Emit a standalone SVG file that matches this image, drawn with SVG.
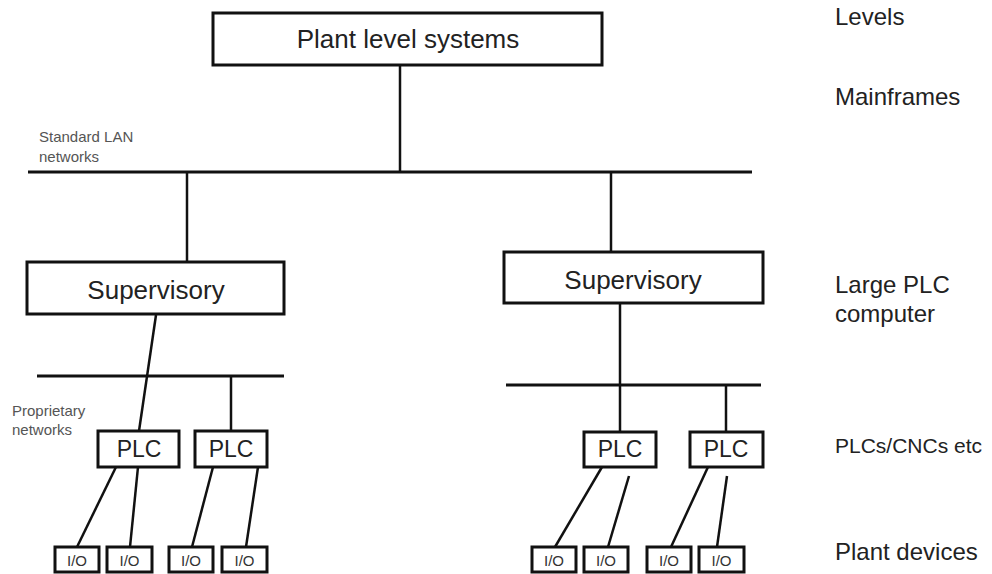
<svg xmlns="http://www.w3.org/2000/svg" width="992" height="574" viewBox="0 0 992 574">
<style>
.box{fill:#fff;stroke:#111;stroke-width:3}
.ln{stroke:#111;stroke-width:2.5;fill:none;stroke-linecap:butt}
.bus{stroke:#111;stroke-width:3;fill:none}
text{font-family:"Liberation Sans",Arial,sans-serif;fill:#222}
.big{font-size:26px;text-anchor:middle}
.plc{font-size:23px;text-anchor:middle}
.io{font-size:15px;text-anchor:middle;fill:#333}
.lvl{font-size:24px}
.small{font-size:15px;fill:#555}
</style>
<rect width="992" height="574" fill="#fff"/>
<g id="connectors">
<line class="ln" x1="400" y1="65" x2="400" y2="172"/>
<line class="bus" x1="28" y1="172" x2="752" y2="172"/>
<line class="ln" x1="187" y1="172" x2="187" y2="262"/>
<line class="ln" x1="611" y1="172" x2="611" y2="252"/>
<line class="ln" x1="156" y1="315" x2="139" y2="431"/>
<line class="bus" x1="37" y1="376" x2="284" y2="376"/>
<line class="ln" x1="231" y1="376" x2="231" y2="431"/>
<line class="ln" x1="620" y1="303" x2="620" y2="432"/>
<line class="bus" x1="506" y1="385" x2="761" y2="385"/>
<line class="ln" x1="726" y1="385" x2="726" y2="432"/>
<line class="ln" x1="116" y1="467" x2="77" y2="547"/>
<line class="ln" x1="138" y1="467" x2="130" y2="547"/>
<line class="ln" x1="213" y1="467" x2="192" y2="547"/>
<line class="ln" x1="258" y1="467" x2="246" y2="547"/>
<line class="ln" x1="602" y1="467" x2="555" y2="547"/>
<line class="ln" x1="629" y1="476" x2="608" y2="547"/>
<line class="ln" x1="708" y1="467" x2="671" y2="547"/>
<line class="ln" x1="727" y1="476" x2="717" y2="547"/>
</g>
<g id="plant"><rect class="box" x="213" y="13" width="389" height="52"/><text class="big" x="408" y="48">Plant level systems</text></g>
<g id="sup1"><rect class="box" x="27" y="262" width="257" height="52"/><text class="big" x="156" y="299">Supervisory</text></g>
<g id="sup2"><rect class="box" x="504" y="252" width="259" height="51"/><text class="big" x="633" y="289">Supervisory</text></g>
<g id="plc1"><rect class="box" x="98" y="431" width="81" height="36"/><text class="plc" x="139" y="457">PLC</text></g>
<g id="plc2"><rect class="box" x="195" y="431" width="72" height="36"/><text class="plc" x="231" y="457">PLC</text></g>
<g id="plc3"><rect class="box" x="584" y="432" width="72" height="35"/><text class="plc" x="620" y="457">PLC</text></g>
<g id="plc4"><rect class="box" x="690" y="432" width="73" height="35"/><text class="plc" x="726" y="457">PLC</text></g>
<g id="io1"><rect class="box" x="55" y="547" width="44" height="25"/><text class="io" x="77" y="566">I/O</text></g>
<g id="io2"><rect class="box" x="107" y="547" width="45" height="25"/><text class="io" x="129.5" y="566">I/O</text></g>
<g id="io3"><rect class="box" x="169" y="547" width="44" height="25"/><text class="io" x="191" y="566">I/O</text></g>
<g id="io4"><rect class="box" x="222" y="547" width="45" height="25"/><text class="io" x="244.5" y="566">I/O</text></g>
<g id="io5"><rect class="box" x="532" y="547" width="44" height="25"/><text class="io" x="554" y="566">I/O</text></g>
<g id="io6"><rect class="box" x="584" y="547" width="44" height="25"/><text class="io" x="606" y="566">I/O</text></g>
<g id="io7"><rect class="box" x="647" y="547" width="44" height="25"/><text class="io" x="669" y="566">I/O</text></g>
<g id="io8"><rect class="box" x="699" y="547" width="45" height="25"/><text class="io" x="721.5" y="566">I/O</text></g>
<g id="labels">
<text class="small" x="39" y="142">Standard LAN</text>
<text class="small" x="39" y="162">networks</text>
<text class="small" x="12" y="416">Proprietary</text>
<text class="small" x="12" y="435">networks</text>
<text class="lvl" x="835" y="25">Levels</text>
<text class="lvl" x="835" y="105">Mainframes</text>
<text class="lvl" x="835" y="293">Large PLC</text>
<text class="lvl" x="835" y="322">computer</text>
<text class="lvl" x="835" y="453" style="font-size:21px">PLCs/CNCs etc</text>
<text class="lvl" x="835" y="560">Plant devices</text>
</g>
</svg>
